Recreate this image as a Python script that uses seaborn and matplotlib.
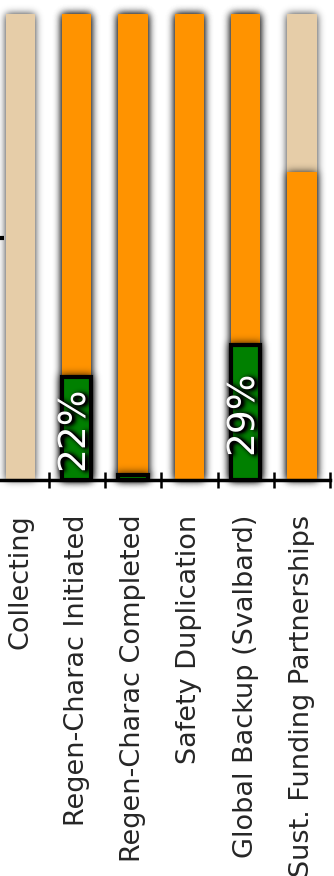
import numpy as np
import pandas as pd
import matplotlib
matplotlib.use("Agg")
import matplotlib.pyplot as plt
import seaborn as sns

# Pipeline stages and their percentages
categories = ["Collecting", "Regen-Charac Initiated", "Regen-Charac Completed",
              "Safety Duplication", "Global Backup (Svalbard)", "Sust. Funding Partnerships"]
target_pct = [100, 100, 100, 100, 100, 100]
progress_pct = [0, 100, 100, 100, 100, 66]
done_pct = [0, 22, 1, 0, 29, 0]
label_min = 5  # completed shares below this stay unlabelled

TAN = "#E6CDA8"
ORANGE = "#FF9300"
GREEN = "#008000"

sns.set_style("white")
plt.rcParams["font.family"] = ["DejaVu Sans"]


def _blur(a, sigma):
    r = max(1, int(3 * sigma))
    x = np.arange(-r, r + 1)
    k = np.exp(-0.5 * (x / sigma) ** 2)
    k /= k.sum()
    out = np.apply_along_axis(lambda v: np.convolve(v, k, mode="same"), 0, a)
    out = np.apply_along_axis(lambda v: np.convolve(v, k, mode="same"), 1, out)
    return out


class SoftShadow:
    """agg filter: draws the artist over a blurred dark copy of itself."""

    def __init__(self, sigma=3.0, opacity=0.5, dx=0, dy=0):
        self.sigma, self.opacity, self.dx, self.dy = sigma, opacity, dx, dy

    def __call__(self, im, dpi):
        pad = int(3 * self.sigma) + max(abs(self.dx), abs(self.dy)) + 2
        src = np.pad(im, [(pad, pad), (pad, pad), (0, 0)])
        sa = src[..., 3:4]
        sh = np.clip(_blur(src[..., 3], self.sigma) * self.opacity, 0, 1)
        sh = np.roll(sh, (self.dy, self.dx), axis=(0, 1))[..., None]
        oa = np.clip(sa + sh * (1 - sa), 0, 1)
        out = np.zeros_like(src)
        out[..., :3] = src[..., :3] * sa / np.maximum(oa, 1e-6)
        out[..., 3:4] = oa
        return np.clip(out, 0, 1), -pad, -pad


df = pd.DataFrame({"stage": categories, "target": target_pct,
                   "progress": progress_pct, "done": done_pct})

fig = plt.figure(figsize=(3.34, 8.76), dpi=100)
ax = fig.add_axes([0.0024, 0.4521, 0.9862, 0.5319])

bar_w = 0.52
sns.barplot(data=df, x="stage", y="target", order=categories, color=TAN,
            saturation=1, width=bar_w, errorbar=None, linewidth=0, ax=ax)
sns.barplot(data=df[df["progress"] > 0], x="stage", y="progress", order=categories,
            color=ORANGE, saturation=1, width=bar_w, errorbar=None, linewidth=0, ax=ax)
sns.barplot(data=df[df["done"] > 0], x="stage", y="done", order=categories,
            color=GREEN, saturation=1, width=bar_w, errorbar=None,
            edgecolor="black", linewidth=3, ax=ax)

for p in ax.patches:
    p.set_agg_filter(SoftShadow(sigma=4.0, opacity=0.85))

for i, v in enumerate(done_pct):
    if v >= label_min:
        t = ax.text(i - 0.06, v / 2, f"{v}%", rotation=90, ha="center", va="center",
                    color="white", fontsize=27, zorder=5)
        t.set_agg_filter(SoftShadow(sigma=2.5, opacity=2.2, dx=3, dy=1))

ax.set_xlabel("")
ax.set_ylabel("")

for side in ("left", "top", "right"):
    ax.spines[side].set_visible(False)
ax.spines["bottom"].set_linewidth(2.5)
ax.spines["bottom"].set_color("black")

ax.set_xticks(range(len(categories)))
ax.set_xticklabels(categories, rotation=90, fontsize=19.5)
ax.set_xticks(np.arange(0.5, len(categories), 1), minor=True)
ax.tick_params(axis="x", which="major", length=0, pad=25)
ax.tick_params(axis="x", which="minor", direction="inout", length=11, width=1.8,
               color="black", bottom=True)
ax.set_yticks([52])
ax.set_yticklabels([])
ax.tick_params(axis="y", direction="inout", length=4, width=3, color="black", left=True)

ax.set_xlim(-0.35, 5.5)
ax.set_ylim(0, 100)

fig.savefig("out.png", dpi=100)
